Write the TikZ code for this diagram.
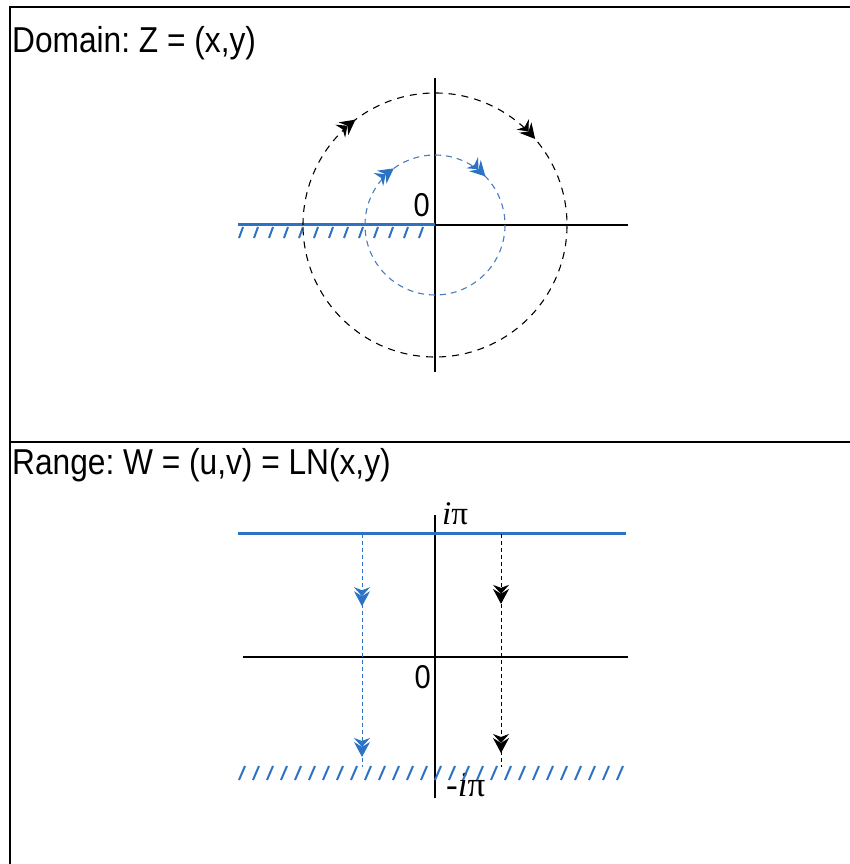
\documentclass[tikz,border=0pt]{standalone}
\usepackage{fontspec}
\setmainfont{Liberation Sans}
\newfontfamily\serifpi{Liberation Serif}
\usetikzlibrary{arrows.meta,decorations.markings}
\definecolor{azul}{RGB}{45,115,195}
\definecolor{azulclaro}{RGB}{70,125,190}
\tikzset{flecha/.tip={Stealth[length=9pt,width=16pt,inset=3pt,sep=-5pt] Stealth[length=15pt,width=16pt,inset=5pt]}}
\frenchspacing

\begin{document}
\begin{tikzpicture}[x=1pt,y=1pt,
  marco/.style={line width=2.5pt},
  eje/.style={line width=1.2pt},
  corte/.style={azul, line width=3pt},
  rayita/.style={azul, line width=2pt},
  circ/.style={dash pattern=on 7pt off 6pt, line width=1.1pt},
  guia/.style={dash pattern=on 4pt off 3pt, line width=0.8pt},
  titulo/.style={anchor=base west, inner sep=0pt, font=\fontsize{36}{40}\selectfont},
  cero/.style={anchor=base east, inner sep=0pt, font=\fontsize{33}{36}\selectfont}]
\useasboundingbox (0,0) rectangle (850,864);

% Marco con los dos paneles
\draw[marco] (850,857) -- (10,857) -- (10,0);
\draw[marco] (10,422) -- (850,422);

% Panel superior: dominio
\node[titulo] (dominio) at (12,811) {\scalebox{0.88}[1]{Domain: Z = (x,y)}};
\coordinate (O1) at (435,639);
\draw[eje] (238,639) -- (628,639);
\draw[eje] (435,786) -- (435,492);
\node[cero] (cero1) at (430,647) {\scalebox{0.88}[1]{0}};

% Corte sobre el semieje real negativo
\draw[corte] (238,639) -- (O1);
\foreach \x in {243,258,...,432}
  \draw[rayita] (\x,637) -- (\x-4,626);

% Circulos recorridos en sentido horario
\draw[circ, postaction={decorate, decoration={markings,
    mark=at position 0.147 with {\arrow{flecha}},
    mark=at position 0.387 with {\arrow{flecha}}}}]
  (O1) ++(180:132) arc[start angle=180, end angle=-180, radius=132];
\draw[circ, azulclaro, dash pattern=on 6pt off 5pt, postaction={decorate, decoration={markings,
    mark=at position 0.15 with {\arrow[azul]{flecha}},
    mark=at position 0.378 with {\arrow[azul]{flecha}}}}]
  (O1) ++(180:70) arc[start angle=180, end angle=-180, radius=70];

% Panel inferior: rango
\node[titulo] (rango) at (12,389) {\scalebox{0.88}[1]{Range: W = (u,v) = LN(x,y)}};
\draw[eje] (243,207) -- (628,207);
\draw[eje] (435,349) -- (435,66);
\node[cero] (cero2) at (431,175) {\scalebox{0.88}[1]{0}};
\node[anchor=base west, inner sep=0pt, font=\fontsize{33}{36}\selectfont\serifpi] (ipi) at (442,339) {\textit{i}π};
\node[anchor=base west, inner sep=0pt, font=\fontsize{35}{38}\selectfont\serifpi] (menosipi) at (446,67) {-\textit{i}π};

% Bandas en v = pi y v = -pi
\draw[corte] (238,330) -- (626,330);
\foreach \x in {242,256,...,626}
  \draw[rayita] (\x+3,98) -- (\x-3,84);

% Imagenes de los circulos
\coordinate (a1) at (362,330);
\coordinate (a2) at (362,97);
\coordinate (b1) at (501,330);
\coordinate (b2) at (501,97);
\draw[guia, azul, postaction={decorate, decoration={markings,
    mark=at position 0.31 with {\arrow[azul]{flecha}},
    mark=at position 0.957 with {\arrow[azul]{flecha}}}}] (a1) -- (a2);
\draw[guia, postaction={decorate, decoration={markings,
    mark=at position 0.30 with {\arrow{flecha}},
    mark=at position 0.94 with {\arrow{flecha}}}}] (b1) -- (b2);
\end{tikzpicture}
\end{document}
